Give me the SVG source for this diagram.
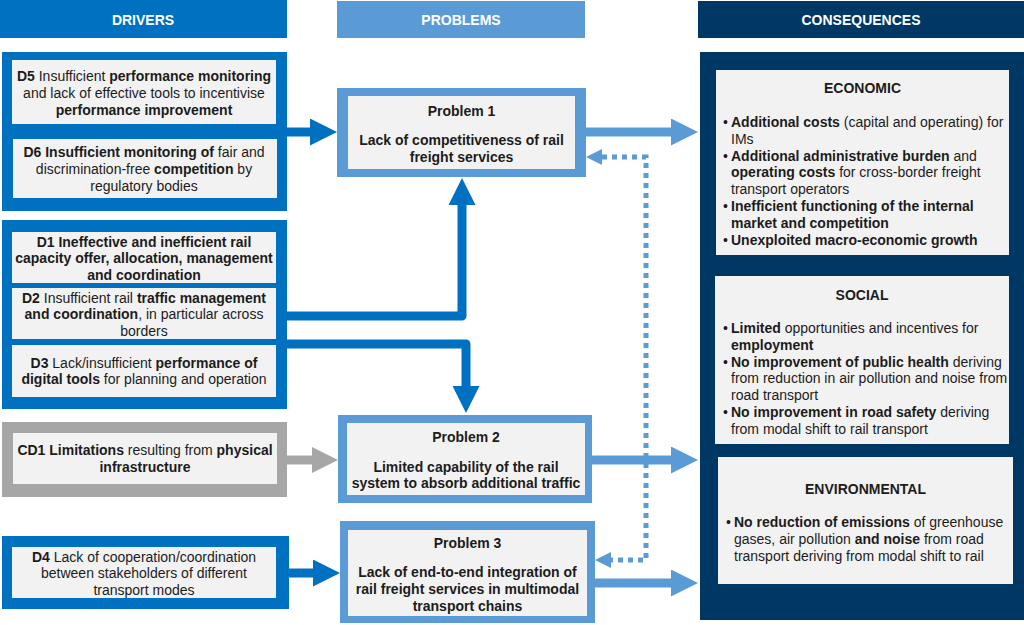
<svg xmlns="http://www.w3.org/2000/svg" width="1024" height="625" viewBox="0 0 1024 625">
<style>
text{font-family:"Liberation Sans",Arial,Helvetica,sans-serif;font-size:14px;fill:#1c1c1c}
.c{text-anchor:middle}
.b{font-weight:bold}
.hdr{fill:#ffffff;font-weight:bold;text-anchor:middle}
.inner{fill:#F2F2F2}
.dk{fill:#0070C0}
.lt{fill:#5B9BD5}
.nv{fill:#003865}
.gr{fill:#A6A6A6}
.cd{fill:none;stroke:#0070C0;stroke-width:9;stroke-linejoin:round}
.cl{fill:none;stroke:#5B9BD5;stroke-width:9}
.cg{fill:none;stroke:#A6A6A6;stroke-width:9}
.dot{fill:none;stroke:#5B9BD5;stroke-width:5;stroke-dasharray:5 5}
</style>
<defs>
<marker id="hDark" markerUnits="userSpaceOnUse" viewBox="0 0 27 27" markerWidth="27" markerHeight="27" refX="0" refY="13.5" orient="auto"><path d="M0,0 L27,13.5 L0,27 Z" fill="#0070C0"/></marker>
<marker id="hLight" markerUnits="userSpaceOnUse" viewBox="0 0 27 27" markerWidth="27" markerHeight="27" refX="0" refY="13.5" orient="auto"><path d="M0,0 L27,13.5 L0,27 Z" fill="#5B9BD5"/></marker>
<marker id="hGray" markerUnits="userSpaceOnUse" viewBox="0 0 26 26" markerWidth="26" markerHeight="26" refX="0" refY="13" orient="auto"><path d="M0,0 L26,13 L0,26 Z" fill="#A6A6A6"/></marker>
<marker id="hDot" markerUnits="userSpaceOnUse" viewBox="0 0 16 16" markerWidth="16" markerHeight="16" refX="0" refY="8" orient="auto-start-reverse"><path d="M0,0 L16,8 L0,16 Z" fill="#5B9BD5"/></marker>
</defs>
<rect width="1024" height="625" fill="#ffffff"/>

<g id="headers">
<rect class="dk" x="0" y="0" width="287" height="38"/>
<text class="hdr" x="143" y="25">DRIVERS</text>
<rect class="lt" x="337" y="1" width="248" height="37"/>
<text class="hdr" x="461" y="25">PROBLEMS</text>
<rect class="nv" x="698" y="1" width="326" height="37"/>
<text class="hdr" x="861" y="25">CONSEQUENCES</text>
</g>

<g id="drivers-d5-d6">
<rect class="dk" x="2" y="52" width="285" height="159"/>
<g id="d5">
<rect class="inner" x="12" y="60" width="264" height="64"/>
<text class="c" x="144" y="81"><tspan class="b">D5</tspan> Insufficient <tspan class="b">performance monitoring</tspan></text>
<text class="c" x="144" y="97.8">and lack of effective tools to incentivise</text>
<text class="c b" x="144" y="114.6">performance improvement</text>
</g>
<g id="d6">
<rect class="inner" x="13" y="139" width="264" height="59"/>
<text class="c" x="144" y="157"><tspan class="b">D6 Insufficient monitoring of</tspan> fair and</text>
<text class="c" x="144" y="173.8">discrimination-free <tspan class="b">competition</tspan> by</text>
<text class="c" x="144" y="190.6">regulatory bodies</text>
</g>
</g>

<g id="drivers-d1-d3">
<rect class="dk" x="2" y="220" width="285" height="189"/>
<g id="d1">
<rect class="inner" x="12" y="232" width="264" height="51"/>
<text class="c b" x="144" y="246.5">D1 Ineffective and inefficient rail</text>
<text class="c b" x="144" y="263.3">capacity offer, allocation, management</text>
<text class="c b" x="144" y="280.1">and coordination</text>
</g>
<g id="d2">
<rect class="inner" x="12" y="288" width="264" height="51"/>
<text class="c" x="144" y="302.5"><tspan class="b">D2</tspan> Insufficient rail <tspan class="b">traffic management</tspan></text>
<text class="c" x="144" y="319.3"><tspan class="b">and coordination</tspan>, in particular across</text>
<text class="c" x="144" y="336.1">borders</text>
</g>
<g id="d3">
<rect class="inner" x="12" y="345" width="264" height="52"/>
<text class="c" x="144" y="367.6"><tspan class="b">D3</tspan> Lack/insufficient <tspan class="b">performance of</tspan></text>
<text class="c" x="144" y="384.4"><tspan class="b">digital tools</tspan> for planning and operation</text>
</g>
</g>

<g id="driver-cd1">
<rect class="gr" x="2" y="422" width="285" height="75"/>
<rect class="inner" x="13" y="433" width="264" height="51"/>
<text class="c" x="145" y="455"><tspan class="b">CD1 Limitations</tspan> resulting from <tspan class="b">physical</tspan></text>
<text class="c b" x="145" y="471.8">infrastructure</text>
</g>

<g id="driver-d4">
<rect class="dk" x="2" y="536" width="287" height="73"/>
<rect class="inner" x="12" y="547" width="264" height="51"/>
<text class="c" x="144" y="561.5"><tspan class="b">D4</tspan> Lack of cooperation/coordination</text>
<text class="c" x="144" y="578.3">between stakeholders of different</text>
<text class="c" x="144" y="595.1">transport modes</text>
</g>

<g id="problem-1">
<rect class="lt" x="337" y="88" width="249" height="89"/>
<rect class="inner" x="348" y="96" width="227" height="73"/>
<text class="c b" x="461.5" y="116">Problem 1</text>
<text class="c b" x="461.5" y="145">Lack of competitiveness of rail</text>
<text class="c b" x="461.5" y="161.8">freight services</text>
</g>

<g id="problem-2">
<rect class="lt" x="338" y="415" width="254" height="88"/>
<rect class="inner" x="347" y="423" width="238" height="72"/>
<text class="c b" x="466" y="442">Problem 2</text>
<text class="c b" x="466" y="471.5">Limited capability of the rail</text>
<text class="c b" x="466" y="488.3">system to absorb additional traffic</text>
</g>

<g id="problem-3">
<rect class="lt" x="340" y="521" width="255" height="102"/>
<rect class="inner" x="348" y="530" width="239" height="86"/>
<text class="c b" x="467.5" y="548">Problem 3</text>
<text class="c b" x="467.5" y="577">Lack of end-to-end integration of</text>
<text class="c b" x="467.5" y="593.8">rail freight services in multimodal</text>
<text class="c b" x="467.5" y="610.6">transport chains</text>
</g>

<g id="consequences">
<rect class="nv" x="700" y="52" width="324" height="568"/>
<g id="economic">
<rect class="inner" x="716" y="70" width="293" height="185"/>
<text class="c b" x="862.5" y="93">ECONOMIC</text>
<text x="723" y="127">•</text><text x="731" y="127"><tspan class="b">Additional costs</tspan> (capital and operating) for</text>
<text x="731" y="143.8">IMs</text>
<text x="723" y="160.6">•</text><text x="731" y="160.6"><tspan class="b">Additional administrative burden</tspan> and</text>
<text x="731" y="177.4"><tspan class="b">operating costs</tspan> for cross-border freight</text>
<text x="731" y="194.2">transport operators</text>
<text x="723" y="211">•</text><text class="b" x="731" y="211">Inefficient functioning of the internal</text>
<text class="b" x="731" y="227.8">market and competition</text>
<text x="723" y="244.6">•</text><text class="b" x="731" y="244.6">Unexploited macro-economic growth</text>
</g>
<g id="social">
<rect class="inner" x="715" y="276" width="294" height="168"/>
<text class="c b" x="862" y="300">SOCIAL</text>
<text x="723" y="333">•</text><text x="731" y="333"><tspan class="b">Limited</tspan> opportunities and incentives for</text>
<text class="b" x="731" y="349.8">employment</text>
<text x="723" y="366.6">•</text><text x="731" y="366.6"><tspan class="b">No improvement of public health</tspan> deriving</text>
<text x="731" y="383.4">from reduction in air pollution and noise from</text>
<text x="731" y="400.2">road transport</text>
<text x="723" y="417">•</text><text x="731" y="417"><tspan class="b">No improvement in road safety</tspan> deriving</text>
<text x="731" y="433.8">from modal shift to rail transport</text>
</g>
<g id="environmental">
<rect class="inner" x="718" y="457" width="295" height="127"/>
<text class="c b" x="865.5" y="494">ENVIRONMENTAL</text>
<text x="726" y="527">•</text><text x="734" y="527"><tspan class="b">No reduction of emissions</tspan> of greenhouse</text>
<text x="734" y="543.8">gases, air pollution <tspan class="b">and noise</tspan> from road</text>
<text x="734" y="560.6">transport deriving from modal shift to rail</text>
</g>
</g>

<g id="connectors">
<path class="cd" d="M287,132 H310" marker-end="url(#hDark)"/>
<path class="cd" d="M287,316 H462 V205" marker-end="url(#hDark)"/>
<path class="cd" d="M287,344 H466 V386" marker-end="url(#hDark)"/>
<path class="cg" d="M287,460 H312" marker-end="url(#hGray)"/>
<path class="cd" d="M289,573 H313" marker-end="url(#hDark)"/>
<path class="cl" d="M586,132 H671" marker-end="url(#hLight)"/>
<path class="cl" d="M592,460 H671" marker-end="url(#hLight)"/>
<path class="cl" d="M595,583 H671" marker-end="url(#hLight)"/>
<path class="dot" d="M602,157 H646 V560 H611" marker-start="url(#hDot)" marker-end="url(#hDot)"/>
</g>
</svg>
